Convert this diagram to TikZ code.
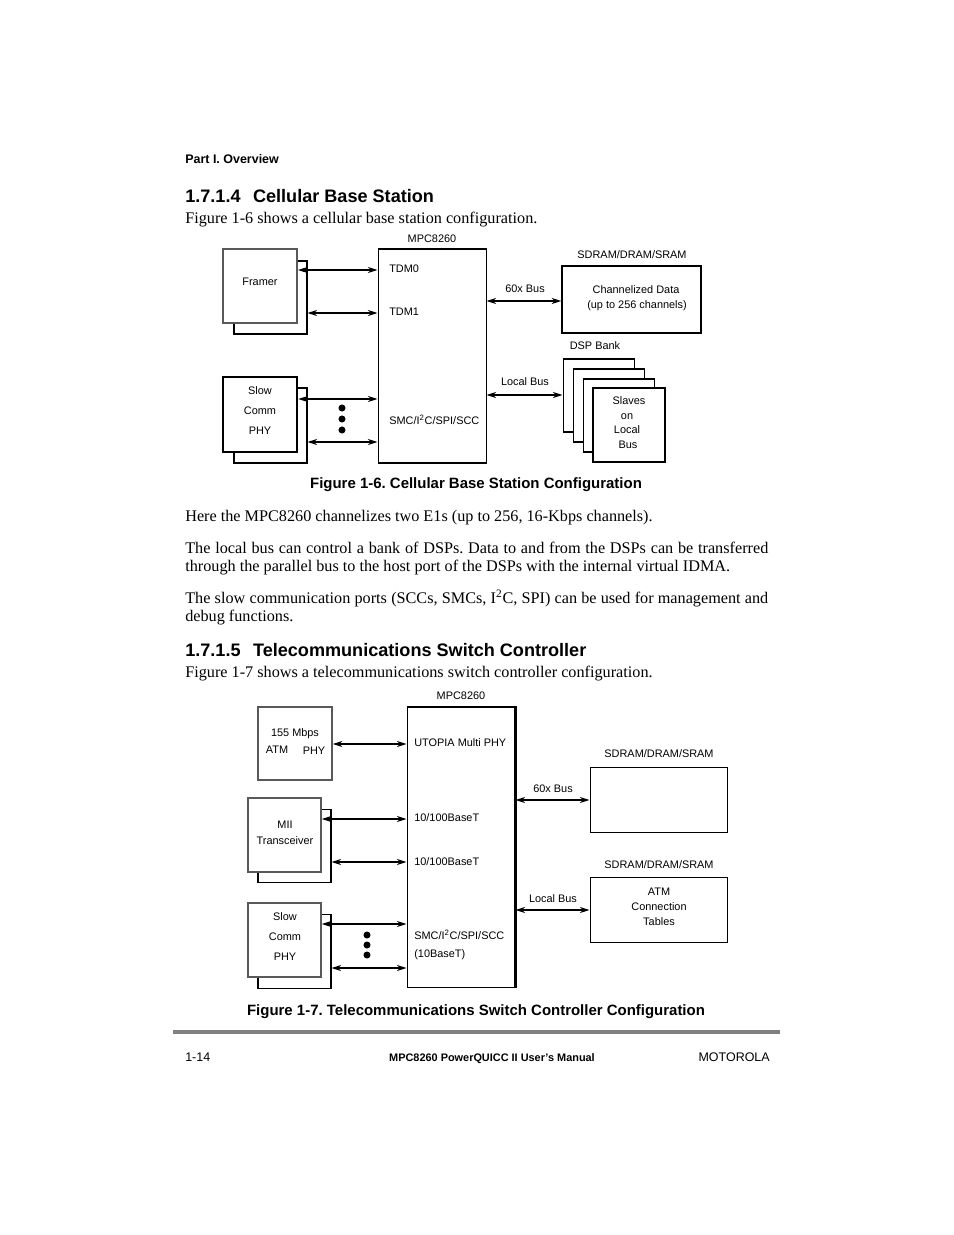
\documentclass[tikz,border=0pt]{standalone}
\usepackage{fontspec}
\setmainfont{Liberation Serif}
\newfontfamily\hv{Liberation Sans}
\usetikzlibrary{arrows.meta,fit}
\begin{document}
\frenchspacing
\begin{tikzpicture}[x=0.64151pt,y=-0.64151pt,
  box/.style={draw, line width=0.65pt, fill=white, inner sep=0pt},
  gbox/.style={box, draw=black!65, line width=1.2pt},
  tbox/.style={box, line width=1.6pt},
  lab/.style={inner sep=0pt, font=\hv\fontsize{7}{8}\selectfont, text height=5.1pt, text depth=1.4pt},
  bodytxt/.style={inner sep=0pt, anchor=base west, font=\fontsize{10.4}{12}\selectfont},
  headtxt/.style={inner sep=0pt, anchor=base west, font=\hv\bfseries\fontsize{11.6}{14}\selectfont},
  captxt/.style={inner sep=0pt, anchor=base, font=\hv\bfseries\fontsize{9.6}{11}\selectfont},
  foottxt/.style={inner sep=0pt, anchor=base, font=\hv\fontsize{8}{10}\selectfont},
  arr/.style={{Stealth[length=6.2pt,width=3.9pt]}-{Stealth[length=6.2pt,width=3.9pt]}, line width=0.7pt},
  bdot/.style={circle, fill=black, inner sep=0pt, minimum size=4.5pt}]
\useasboundingbox (0,0) rectangle (954,1235);
\fill[white] (0,0) rectangle (954,1235);

% ---------- page text ----------
\node[inner sep=0pt, anchor=base west, font=\hv\bfseries\fontsize{8}{10}\selectfont] (part) at (185,164) {Part I. Overview};
\node[headtxt] (h1) at (185,203) {1.7.1.4\hspace{8pt}Cellular Base Station};
\node[bodytxt] (t1) at (185,224) {Figure 1-6 shows a cellular base station configuration.};
\node[captxt] (c1) at (476,488) {Figure 1-6. Cellular Base Station Configuration};
\node[bodytxt] (t2) at (185,521) {Here the MPC8260 channelizes two E1s (up to 256, 16-Kbps channels).};
\node[bodytxt] (t3) at (185,553) {\makebox[374pt][s]{The local bus can control a bank of DSPs. Data to and from the DSPs can be transferred}};
\node[bodytxt] (t4) at (185,571) {through the parallel bus to the host port of the DSPs with the internal virtual IDMA.};
\node[bodytxt] (t5) at (185,603) {\makebox[374pt][s]{The slow communication ports (SCCs, SMCs, I\textsuperscript{2}C, SPI) can be used for management and}};
\node[bodytxt] (t6) at (185,621) {debug functions.};
\node[headtxt] (h2) at (185,656) {1.7.1.5\hspace{8pt}Telecommunications Switch Controller};
\node[bodytxt] (t7) at (185,677) {Figure 1-7 shows a telecommunications switch controller configuration.};
\node[captxt] (c2) at (476,1015) {Figure 1-7. Telecommunications Switch Controller Configuration};
\draw[line width=2pt, black!50] (173,1032) coordinate (rl) -- (780,1032) coordinate (rr);
\node[foottxt, anchor=base west] (f1) at (185,1061) {1-14};
\node[foottxt, font=\hv\bfseries\fontsize{7}{9}\selectfont] (f2) at (492,1061) {MPC8260 PowerQUICC II User’s Manual};
\node[foottxt, anchor=base east] (f3) at (770,1061) {MOTOROLA};

% ---------- Figure 1-6 ----------
\node[box, fit={(234,261)(307,334)}] (frB) {};
\node[gbox, fit={(223,249)(297,323)}] (fr) {};
\node[lab] at (260,283) {Framer};
\node[box, fit={(234,388)(307,463)}] (slB) {};
\node[tbox, fit={(223,377)(297,452)}] (sl) {};
\node[lab] at (260,392) {Slow};
\node[lab] at (260,412) {Comm};
\node[lab] at (260,432) {PHY};
\node[box, fit={(378,249)(486,463)}] (mpcA) {};
\node[lab] at (432,240) {MPC8260};
\node[lab, anchor=west] at (389,270) {TDM0};
\node[lab, anchor=west] at (389,313) {TDM1};
\node[lab, anchor=west] at (389,422) {SMC/I\textsuperscript{2}C/SPI/SCC};
\coordinate (ya) at (0,270);
\coordinate (yb) at (0,313);
\coordinate (yc) at (0,399);
\coordinate (yd) at (0,442);
\draw[arr] (fr.east |- ya) -- (mpcA.west |- ya);
\draw[arr] (frB.east |- yb) -- (mpcA.west |- yb);
\draw[arr] (sl.east |- yc) -- (mpcA.west |- yc);
\draw[arr] (slB.east |- yd) -- (mpcA.west |- yd);
\node[bdot] at (342,408) {};
\node[bdot] at (342,419) {};
\node[bdot] at (342,430) {};
\node[box, line width=0.9pt, fit={(562,266)(701,333)}] (sdA) {};
\node[lab] at (632,256) {SDRAM/DRAM/SRAM};
\node[lab] at (636,291) {Channelized Data};
\node[lab] at (637,306) {(up to 256 channels)};
\coordinate (ye) at (0,301);
\draw[arr] (mpcA.east |- ye) -- (sdA.west |- ye);
\node[lab] at (525,290) {60x Bus};
\node[box, fit={(563,359)(634,432)}] (d1) {};
\node[box, fit={(573,369)(644,442)}] (d2) {};
\node[box, fit={(583,379)(654,452)}] (d3) {};
\node[box, line width=0.9pt, fit={(593,388)(665,462)}] (d4) {};
\node[lab] at (595,347) {DSP Bank};
\node[lab] at (629,402) {Slaves};
\node[lab] at (627,417) {on};
\node[lab] at (627,431) {Local};
\node[lab] at (628,446) {Bus};
\coordinate (yf) at (0,395);
\draw[arr] (mpcA.east |- yf) -- (d1.west |- yf);
\node[lab] at (525,383) {Local Bus};

% ---------- Figure 1-7 ----------
\node[gbox, line width=1pt, fit={(258,707)(332,780)}] (atm) {};
\node[lab] at (295,734) {155 Mbps};
\node[lab] at (277,751) {ATM};
\node[lab] at (314,752) {PHY};
\node[box, fit={(258,809)(331,882)}] (miB) {};
\node[gbox, line width=1pt, fit={(248,798)(321,872)}] (mi) {};
\node[lab] at (285,826) {MII};
\node[lab] at (285,842) {Transceiver};
\node[box, fit={(258,914)(331,988)}] (scB) {};
\node[gbox, line width=1pt, fit={(248,903)(321,977)}] (sc) {};
\node[lab] at (285,918) {Slow};
\node[lab] at (285,938) {Comm};
\node[lab] at (285,958) {PHY};
\node[box, fit={(407,707)(515,987)}] (mpcB) {};
\draw[line width=1.4pt] (mpcB.north east) -- (mpcB.south east);
\node[lab] at (461,697) {MPC8260};
\node[lab, anchor=west] at (414,744) {UTOPIA Multi PHY};
\node[lab, anchor=west] at (414,819) {10/100BaseT};
\node[lab, anchor=west] at (414,863) {10/100BaseT};
\node[lab, anchor=west] at (414,937) {SMC/I\textsuperscript{2}C/SPI/SCC};
\node[lab, anchor=west] at (414,955) {(10BaseT)};
\coordinate (yg) at (0,744);
\coordinate (yh) at (0,819);
\coordinate (yi) at (0,862);
\coordinate (yj) at (0,924);
\coordinate (yk) at (0,968);
\draw[arr] (atm.east |- yg) -- (mpcB.west |- yg);
\draw[arr] (mi.east |- yh) -- (mpcB.west |- yh);
\draw[arr, line width=1.1pt] (miB.east |- yi) -- (mpcB.west |- yi);
\draw[arr] (sc.east |- yj) -- (mpcB.west |- yj);
\draw[arr] (scB.east |- yk) -- (mpcB.west |- yk);
\node[bdot] at (367,935) {};
\node[bdot] at (367,945) {};
\node[bdot] at (367,955) {};
\node[box, fit={(590,767)(727,832)}] (sdB) {};
\node[lab] at (659,755) {SDRAM/DRAM/SRAM};
\node[box, fit={(590,877)(727,942)}] (sdC) {};
\node[lab] at (659,866) {SDRAM/DRAM/SRAM};
\node[lab] at (659,893) {ATM};
\node[lab] at (659,908) {Connection};
\node[lab] at (659,923) {Tables};
\coordinate (yl) at (0,800);
\coordinate (ym) at (0,910);
\draw[arr] (mpcB.east |- yl) -- (sdB.west |- yl);
\node[lab] at (553,790) {60x Bus};
\draw[arr] (mpcB.east |- ym) -- (sdC.west |- ym);
\node[lab] at (553,900) {Local Bus};
\end{tikzpicture}
\end{document}
